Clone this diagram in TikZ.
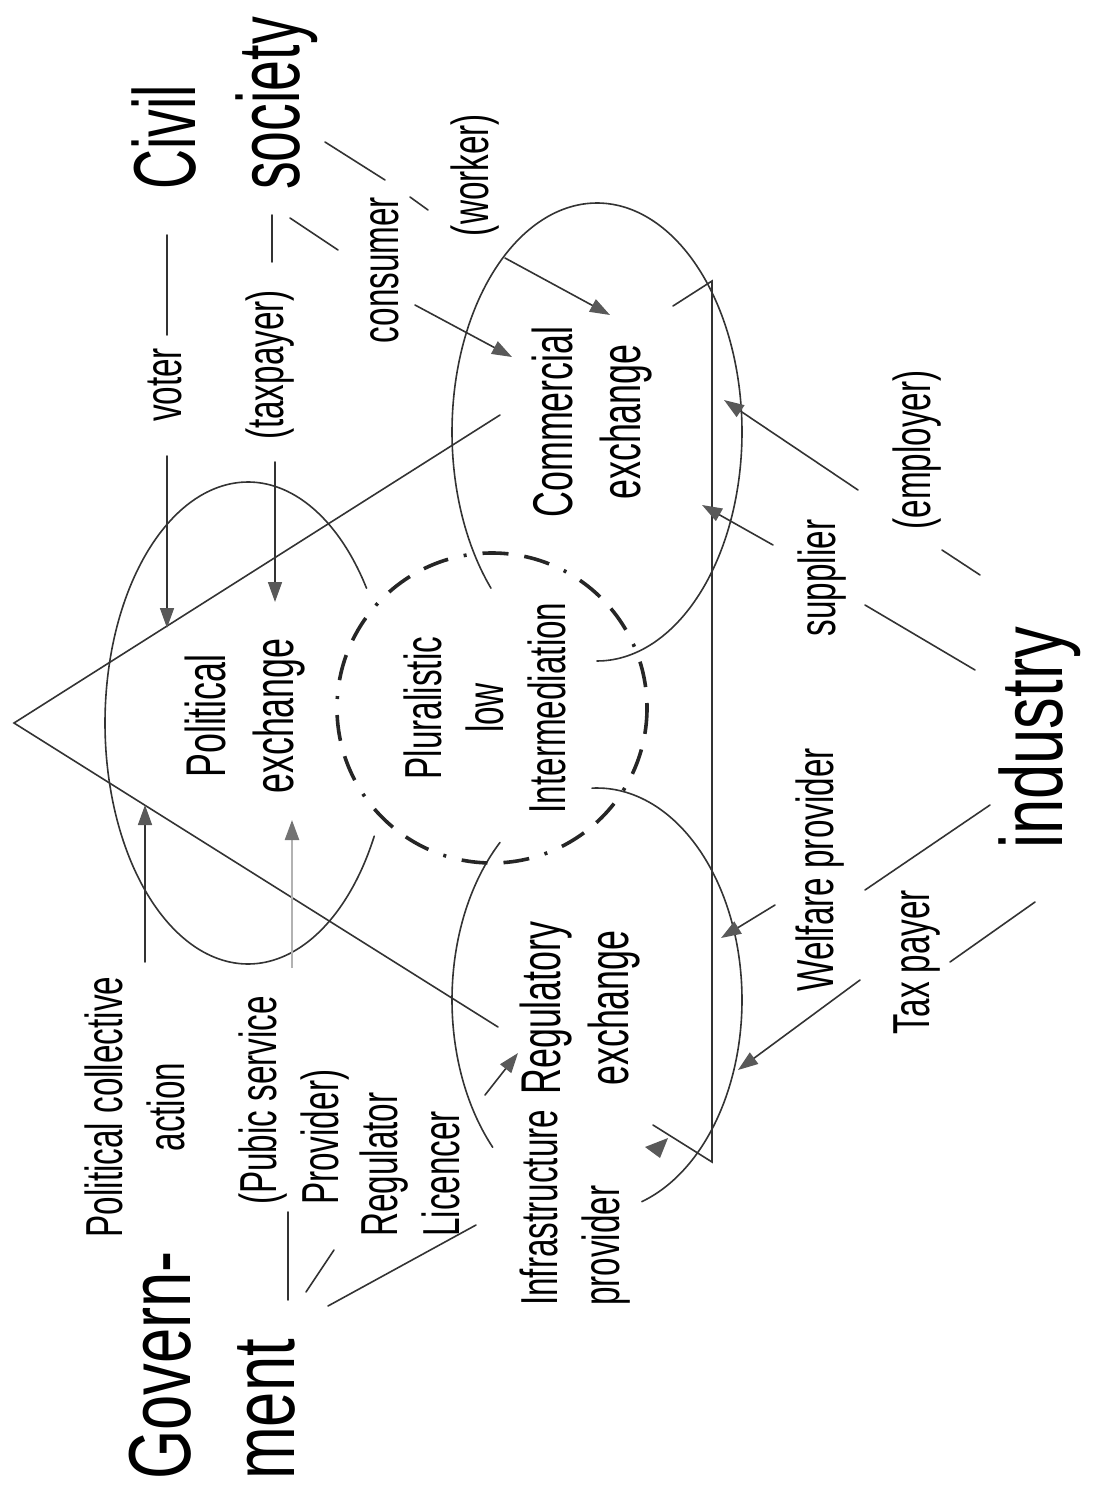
\documentclass[tikz,border=0pt]{standalone}
\usepackage{fontspec}
\setmainfont{Liberation Sans}[FakeStretch=0.64]
\newfontfamily\bigfont{Liberation Sans}[FakeStretch=0.72]
\newfontfamily\civfont{Liberation Sans}[FakeStretch=0.63]
\usetikzlibrary{arrows.meta}
\begin{document}
\begin{tikzpicture}[x=1pt,y=-1pt,
  ln/.style={line width=1.6pt, draw=black!80, line cap=round},
  arr/.style={ln, -{Triangle[length=20pt,width=14pt,fill=black!65,color=black!65]}},
  garr/.style={line width=2.4pt, draw=black!30, -{Triangle[length=20pt,width=14pt,fill=black!55,color=black!55]}},
  sm/.style={rotate=90, inner sep=0pt, font=\fontsize{52}{62}\selectfont},
  md/.style={rotate=90, inner sep=0pt, font=\fontsize{56}{68}\selectfont},
  bg/.style={rotate=90, inner sep=0pt, font=\bigfont\fontsize{88}{104}\selectfont},
  cv/.style={rotate=90, inner sep=0pt, font=\civfont\fontsize{88}{104}\selectfont},
  dashcirc/.style={line width=3.6pt, draw=black!85,
    dash pattern=on 26pt off 16pt on 26pt off 16pt on 3pt off 16pt}
]
\useasboundingbox (0,0) rectangle (1096,1506);

% ---------- text nodes ----------
\node[cv, align=left, anchor=west] (civ) at (225,190) {Civil\\society};
\node[bg, align=left, anchor=west] (gov) at (212,1480) {Govern-\\ment};
\node[bg] (ind) at (1040,738) {industry};

\node[sm] (voter) at (165,385) {voter};
\node[sm] (taxp) at (270,365) {(taxpayer)};
\node[sm] (cons) at (385,270) {consumer};
\node[sm] (work) at (475,175) {(worker)};

\node[md, align=center] (pol) at (245,716) {Political\\exchange};
\node[sm, align=center] (plu) at (485,708) {Pluralistic\\low\\Intermediation};
\node[md, align=center] (com) at (592,422) {Commercial\\exchange};
\node[md, align=center] (reg) at (580,1008) {Regulatory\\exchange};

\node[sm, align=left, anchor=west] (infra) at (575,1306) {Infrastructure\\provider};
\node[sm, align=left, anchor=west] (regl) at (410,1237) {Regulator\\Licencer};
\node[sm, align=left, anchor=west] (psp) at (294,1205) {(Pubic service\\Provider)};
\node[sm, align=center] (pca) at (135,1107) {Political collective\\action};

\node[sm] (sup) at (822,578) {supplier};
\node[sm] (emp) at (917,450) {(employer)};
\node[sm] (wel) at (820,870) {Welfare provider};
\node[sm] (taxi) at (917,962) {Tax payer};

% ---------- triangle ----------
\coordinate (apex) at (14,723);
\coordinate (tr) at (712,281);
\coordinate (br) at (712,1162);
\coordinate (ue) at (500,415);
\coordinate (us) at (673,306);
\coordinate (le) at (498,1027);
\coordinate (ls) at (653,1125);
\draw[ln] (ue) -- (apex) -- (le);
\draw[ln] (us) -- (tr) -- (br) -- (ls);

% ---------- exchange ellipses ----------
\draw[ln, domain=28:326, samples=120, variable=\t, smooth]
  plot ({248+143*cos(\t)}, {723+241*sin(\t)});
\draw[ln, domain=137:450, samples=120, variable=\t, smooth]
  plot ({597+145*cos(\t)}, {432+229*sin(\t)});
\draw[ln, domain=268:432, samples=100, variable=\t, smooth]
  plot ({597+145*cos(\t)}, {1000+212*sin(\t)});
\draw[ln, domain=136:228, samples=60, variable=\t, smooth]
  plot ({597+145*cos(\t)}, {1000+212*sin(\t)});

% ---------- intermediation circle ----------
\draw[dashcirc] (492,708) circle[radius=155];

% ---------- civil society side ----------
\coordinate (c1a) at (167,235); \coordinate (c1b) at (167,335);
\coordinate (a1a) at (167,456); \coordinate (a1b) at (167,628);
\coordinate (c2a) at (272,215); \coordinate (c2b) at (272,262);
\coordinate (a2a) at (275,462); \coordinate (a2b) at (275,602);
\coordinate (c3a) at (290,218); \coordinate (c3b) at (338,250);
\coordinate (a3a) at (415,305); \coordinate (a3b) at (512,357);
\coordinate (c4a) at (325,142); \coordinate (c4b) at (385,180);
\coordinate (c4c) at (410,197); \coordinate (c4d) at (428,210);
\coordinate (a4a) at (505,258); \coordinate (a4b) at (610,315);
\draw[ln] (c1a) -- (c1b);
\draw[arr] (a1a) -- (a1b);
\draw[ln] (c2a) -- (c2b);
\draw[arr] (a2a) -- (a2b);
\draw[ln] (c3a) -- (c3b);
\draw[arr] (a3a) -- (a3b);
\draw[ln] (c4a) -- (c4b);
\draw[ln] (c4c) -- (c4d);
\draw[arr] (a4a) -- (a4b);

% ---------- industry side ----------
\coordinate (c5a) at (865,605); \coordinate (c5b) at (975,670);
\coordinate (a5a) at (773,545); \coordinate (a5b) at (702,505);
\coordinate (c6a) at (942,550); \coordinate (c6b) at (980,575);
\coordinate (a6a) at (858,490); \coordinate (a6b) at (724,400);
\coordinate (c7a) at (865,890); \coordinate (c7b) at (990,805);
\coordinate (a7a) at (775,905); \coordinate (a7b) at (721,938);
\coordinate (c8a) at (950,962); \coordinate (c8b) at (1035,902);
\coordinate (a8a) at (860,980); \coordinate (a8b) at (738,1070);
\draw[ln] (c5a) -- (c5b);
\draw[arr] (a5a) -- (a5b);
\draw[ln] (c6a) -- (c6b);
\draw[arr] (a6a) -- (a6b);
\draw[ln] (c7a) -- (c7b);
\draw[arr] (a7a) -- (a7b);
\draw[ln] (c8a) -- (c8b);
\draw[arr] (a8a) -- (a8b);

% ---------- government side ----------
\coordinate (a9a) at (145,962); \coordinate (a9b) at (145,805);
\coordinate (a10a) at (292,968); \coordinate (a10b) at (292,820);
\coordinate (c11a) at (288,1212); \coordinate (c11b) at (288,1300);
\coordinate (c12a) at (306,1292); \coordinate (c12b) at (334,1250);
\coordinate (c13a) at (328,1306); \coordinate (c13b) at (476,1225);
\coordinate (a14a) at (485,1095); \coordinate (a14b) at (518,1053);
\draw[arr] (a9a) -- (a9b);
\draw[garr] (a10a) -- (a10b);
\draw[ln] (c11a) -- (c11b);
\draw[ln] (c12a) -- (c12b);
\draw[ln] (c13a) -- (c13b);
\draw[arr] (a14a) -- (a14b);
\fill[black!65] (645,1147) -- (668,1138) -- (660,1158) -- cycle;
\end{tikzpicture}
\end{document}
